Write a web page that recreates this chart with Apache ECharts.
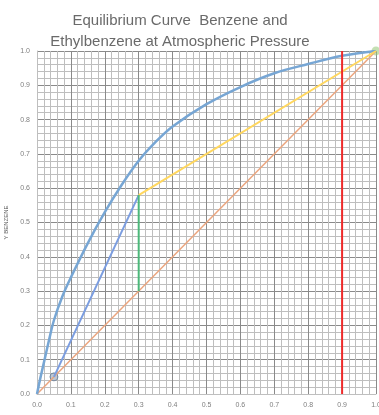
<!DOCTYPE html>
<html>
<head>
<meta charset="utf-8">
<script src="https://cdn.jsdelivr.net/npm/echarts@6/dist/echarts.min.js"></script>
<style>
  html, body { margin: 0; padding: 0; background: #fff; }
  #chart { width: 379px; height: 415px; }
</style>
</head>
<body>
<div id="chart"></div>
<script>
// equilibrium curve
const eqX = [0, 0.01, 0.02, 0.035, 0.05, 0.075, 0.1, 0.15, 0.2, 0.25, 0.3, 0.35, 0.4, 0.5, 0.6, 0.7, 0.8, 0.9, 1.0]
const eqY = [0, 0.047, 0.09, 0.155, 0.215, 0.285, 0.34, 0.44, 0.53, 0.61, 0.68, 0.735, 0.78, 0.845, 0.895, 0.935, 0.962, 0.986, 1.0]
// operating lines
const stripX = [0.05, 0.3]
const stripY = [0.05, 0.58]
const rectX = [0.3, 1.0]
const rectY = [0.58, 1.0]
const stepX = [0.3, 0.3]
const stepY = [0.3, 0.58]
const diagX = [0, 1]
const diagY = [0, 1]
const feedX = [0.9, 0.9]
const feedY = [0, 1]
const startPt = [0.05, 0.05]
const endPt = [1, 1]

function pairs(xs, ys) {
  return xs.map((x, i) => [x, ys[i]])
}

let myChart = echarts.init(document.getElementById('chart'))

const axisLabel = {
  fontSize: 7,
  color: '#7f7f7f',
  fontFamily: 'Liberation Sans',
  formatter: (v) => v.toFixed(1)
}

let option = {
  animation: false,
  title: {
    text: 'Equilibrium Curve  Benzene and\nEthylbenzene at Atmospheric Pressure',
    left: 175,
    top: 5,
    textAlign: 'center',
    textStyle: {
      fontSize: 15,
      fontWeight: 'normal',
      color: '#6a6a6a',
      fontFamily: 'Liberation Sans',
      lineHeight: 21
    }
  },
  grid: { left: 37, right: 3, top: 51, bottom: 21, outerBoundsMode: 'none', containLabel: false },
  xAxis: {
    type: 'value', min: 0, max: 1, interval: 0.1,
    name: 'X BENZENE', nameLocation: 'middle', nameGap: 15,
    nameTextStyle: { fontSize: 6, color: '#595959', fontFamily: 'Liberation Sans' },
    axisLine: { lineStyle: { color: '#bfbfbf' } },
    axisTick: { show: false },
    axisLabel: Object.assign({ margin: 8 }, axisLabel),
    splitLine: { show: true, lineStyle: { color: '#8a8a8a', width: 1 } },
    minorTick: { show: false, splitNumber: 5 },
    minorSplitLine: { show: true, lineStyle: { color: '#bebebe', width: 1 } }
  },
  yAxis: {
    type: 'value', min: 0, max: 1, interval: 0.1,
    name: 'Y BENZENE', nameLocation: 'middle', nameGap: 24, nameRotate: 90,
    nameTextStyle: { fontSize: 6, color: '#595959', fontFamily: 'Liberation Sans' },
    axisLine: { show: true, lineStyle: { color: '#bfbfbf' } },
    axisTick: { show: false },
    axisLabel: Object.assign({ margin: 7 }, axisLabel),
    splitLine: { show: true, lineStyle: { color: '#8a8a8a', width: 1 } },
    minorTick: { show: false, splitNumber: 5 },
    minorSplitLine: { show: true, lineStyle: { color: '#bebebe', width: 1 } }
  },
  series: [
    {
      name: 'diagonal', type: 'line', data: pairs(diagX, diagY),
      symbol: 'none', lineStyle: { color: '#eba57e', width: 1.5 }
    },
    {
      name: 'equilibrium', type: 'line', data: pairs(eqX, eqY),
      smooth: 0.35,
      symbol: 'none', lineStyle: { color: '#77a6d4', width: 2.5 }
    },
    {
      name: 'stripping', type: 'line', data: pairs(stripX, stripY),
      symbol: 'none', lineStyle: { color: '#7b9de0', width: 2 }
    },
    {
      name: 'rectifying', type: 'line', data: pairs(rectX, rectY),
      symbol: 'none', lineStyle: { color: '#ffd75e', width: 2 }
    },
    {
      name: 'step', type: 'line', data: pairs(stepX, stepY),
      symbol: 'none', lineStyle: { color: '#4cb87a', width: 2 }
    },
    {
      name: 'xd', type: 'line', data: pairs(feedX, feedY),
      symbol: 'none', lineStyle: { color: '#ee2a2a', width: 2 }
    },
    {
      name: 'start', type: 'scatter', data: [startPt], symbolSize: 8,
      itemStyle: { color: 'rgba(120,140,165,0.6)', borderColor: '#6d7f99', borderWidth: 1 }
    },
    {
      name: 'end', type: 'scatter', data: [endPt], symbolSize: 9,
      itemStyle: { color: 'rgba(150,200,120,0.7)' }
    }
  ]
}

option && myChart.setOption(option)
</script>
</body>
</html>
